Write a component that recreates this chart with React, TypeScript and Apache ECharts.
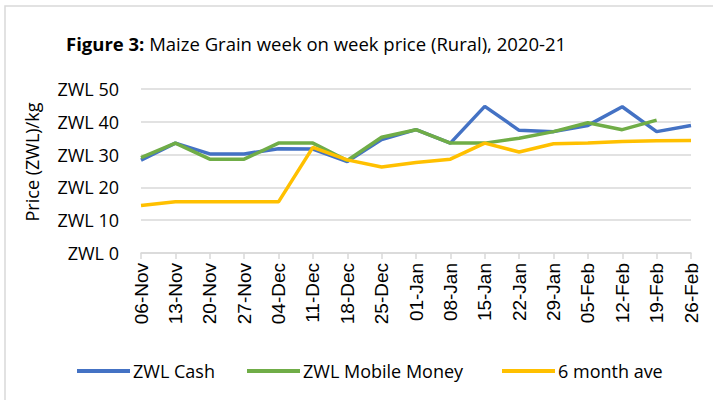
import React, { useEffect, useRef } from "react";
import * as echarts from "echarts";

const categories = ["06-Nov","13-Nov","20-Nov","27-Nov","04-Dec","11-Dec","18-Dec","25-Dec","01-Jan","08-Jan","15-Jan","22-Jan","29-Jan","05-Feb","12-Feb","19-Feb","26-Feb"];
const cash = [28.3, 33.5, 30.2, 30.2, 31.8, 31.7, 27.9, 34.6, 37.6, 33.5, 44.7, 37.4, 37.0, 38.9, 44.6, 37.0, 38.9];
const mobile = [29.1, 33.5, 28.6, 28.6, 33.5, 33.5, 28.2, 35.3, 37.6, 33.5, 33.5, 35.0, 37.0, 39.7, 37.6, 40.5, null];
const sixMonthAve = [14.5, 15.6, 15.6, 15.6, 15.6, 32.2, 28.4, 26.2, 27.6, 28.6, 33.5, 30.8, 33.3, 33.5, 34.0, 34.2, 34.3];
const seriesNames = ["ZWL Cash", "ZWL Mobile Money", "6 month ave"];

const FONT = "Open Sans";

export default function App() {
  const ref = useRef<HTMLDivElement>(null);
  useEffect(() => {
    if (!ref.current) return;
    const chart = echarts.init(ref.current, null, { renderer: "svg" });
    const legendLefts = [72, 242, 497];
    chart.setOption({
      animation: false,
      backgroundColor: "#ffffff",
      graphic: [
        {
          type: "rect",
          shape: { x: 5, y: 6, width: 740, height: 440 },
          style: { fill: "none", stroke: "#d9d9d9", lineWidth: 1.5 },
          silent: true,
        },
        {
          type: "text",
          left: 66,
          top: 34,
          style: {
            text: "{b|Figure 3:} Maize Grain week on week price (Rural), 2020-21",
            rich: {
              b: { fontFamily: FONT, fontSize: 18.5, fontWeight: "bold", fill: "#000" },
            },
            fontFamily: FONT,
            fontSize: 18.5,
            fill: "#000",
          },
        },
        {
          type: "text",
          x: 32,
          y: 162,
          rotation: Math.PI / 2,
          style: {
            text: "Price (ZWL)/kg",
            fontFamily: FONT,
            fontSize: 18,
            fill: "#000",
            align: "center",
            verticalAlign: "middle",
          },
        },
      ],
      grid: { left: 141, right: 22, top: 89, bottom: 147, containLabel: false },
      legend: seriesNames.map((n, i) => ({
        left: legendLefts[i],
        top: 357,
        icon: "rect",
        itemWidth: 53,
        itemHeight: 4,
        itemGap: 0,
        textStyle: { fontFamily: FONT, fontSize: 18, color: "#000", padding: [0, 0, 0, -2] },
        data: [n],
      })),
      xAxis: {
        type: "category",
        data: categories,
        boundaryGap: false,
        axisLine: { lineStyle: { color: "#d9d9d9", width: 1.5 } },
        axisTick: { show: true, length: 6, lineStyle: { color: "#d9d9d9", width: 1.5 } },
        axisLabel: { rotate: 90, margin: 10, fontFamily: "Liberation Sans", fontSize: 19, color: "#000", interval: 0 },
      },
      yAxis: {
        type: "value",
        min: 0,
        max: 50,
        interval: 10,
        axisLine: { show: false },
        axisTick: { show: false },
        splitLine: { lineStyle: { color: "#d9d9d9", width: 1.5 } },
        axisLabel: { formatter: "ZWL {value}", margin: 22, fontFamily: FONT, fontSize: 18, color: "#000" },
      },
      series: [
        { name: seriesNames[0], type: "line", data: cash, symbol: "none", color: "#4472C4", lineStyle: { width: 3.5, color: "#4472C4" } },
        { name: seriesNames[1], type: "line", data: mobile, symbol: "none", color: "#70AD47", lineStyle: { width: 3.5, color: "#70AD47" } },
        { name: seriesNames[2], type: "line", data: sixMonthAve, symbol: "none", color: "#FFC000", lineStyle: { width: 3.5, color: "#FFC000" } },
      ],
    });
    return () => chart.dispose();
  }, []);
  return <div ref={ref} style={{ position: "fixed", left: 0, top: 0, width: 713, height: 400 }} />;
}
